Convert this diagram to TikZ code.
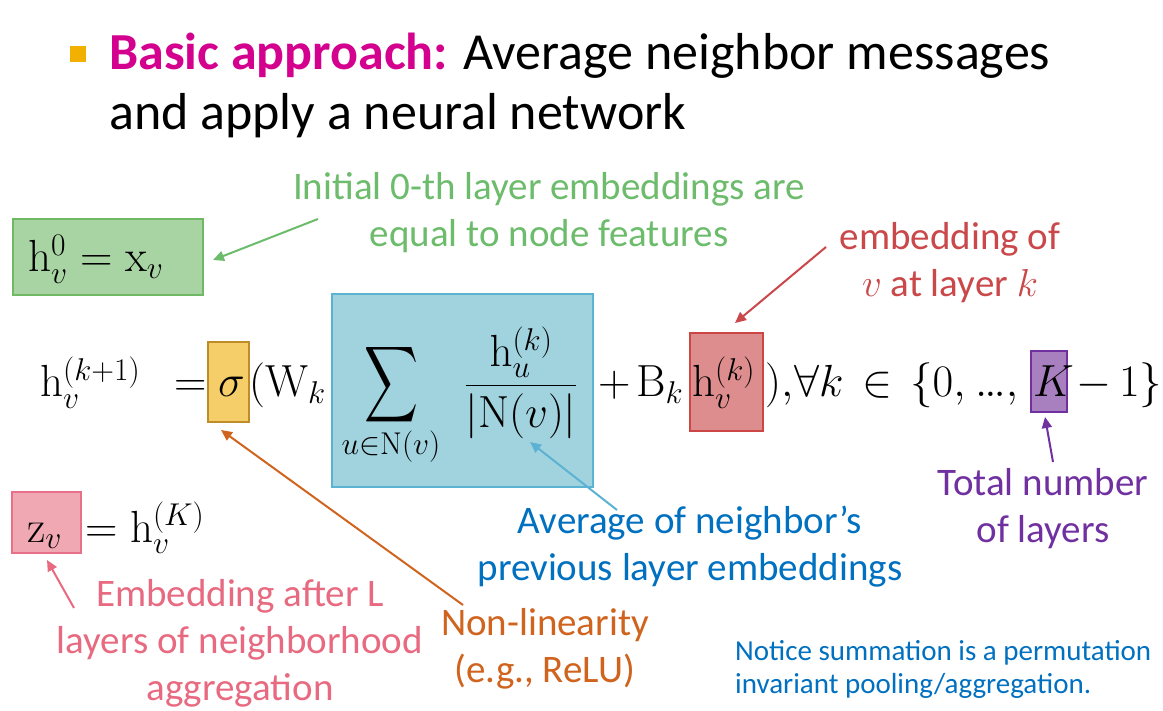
\RequirePackage{fix-cm}
\documentclass[tikz,border=0pt]{standalone}
\usepackage{exscale}
\usepackage{graphicx}
\usepackage[no-math]{fontspec}
\setmainfont{Carlito}
\usetikzlibrary{arrows.meta}
\definecolor{titlec}{RGB}{212,0,142}
\definecolor{bulletc}{RGB}{242,177,0}
\definecolor{greent}{RGB}{108,188,108}
\definecolor{greenf}{RGB}{168,212,163}
\definecolor{greend}{RGB}{112,184,100}
\definecolor{redt}{RGB}{202,72,74}
\definecolor{redf}{RGB}{221,141,141}
\definecolor{redd}{RGB}{204,70,70}
\definecolor{bluet}{RGB}{0,112,192}
\definecolor{bluef}{RGB}{161,211,223}
\definecolor{blued}{RGB}{92,178,210}
\definecolor{purt}{RGB}{112,48,160}
\definecolor{purf}{RGB}{168,128,192}
\definecolor{orat}{RGB}{208,100,30}
\definecolor{sigf}{RGB}{245,205,105}
\definecolor{sigd}{RGB}{190,140,40}
\definecolor{pinkt}{RGB}{232,106,128}
\definecolor{pinkf}{RGB}{240,168,178}
\definecolor{pinkd}{RGB}{232,112,136}
\newcommand{\mydots}{\mathrm{.\kern-3pt.\kern-3pt.}}
\begin{document}
\begin{tikzpicture}[x=1pt,y=-1pt,
  lbl/.style={font=\fontsize{39}{47}\selectfont, align=center, anchor=base, inner sep=0pt},
  eq/.style={font=\fontsize{45}{54}\selectfont, anchor=base west, inner sep=0pt},
  eqc/.style={font=\fontsize{45}{54}\selectfont, anchor=base, inner sep=0pt},
  hbox/.style={line width=2.5pt},
  arr/.style={line width=2pt, -{Triangle[length=11pt,width=10pt]}}]
\useasboundingbox (0,0) rectangle (1163,711);
\fill[white] (0,0) rectangle (1163,711);
% title
\fill[bulletc] (70,46) rectangle (86,62);
\node[font=\fontsize{52}{60}\selectfont, anchor=base west, inner sep=0pt] (t1) at (109,70)
  {\textcolor{titlec}{\textbf{Basic approach:}} Average neighbor messages};
\node[font=\fontsize{52}{60}\selectfont, anchor=base west, inner sep=0pt] (t2) at (109,130)
  {and apply a neural network};
% boxes
\draw[hbox, fill=greenf, draw=greend] (13,219) rectangle (203,295);
\node[eq] (g0) at (28,272) {$\mathrm{h}_v^0 = \mathrm{x}_v$};
\draw[hbox, fill=bluef, draw=blued] (332,294) rectangle (593,487);
\draw[hbox, fill=sigf, draw=sigd] (208,342) rectangle (249,422);
\draw[hbox, fill=redf, draw=redd] (690,333) rectangle (763,431);
\draw[hbox, fill=purf, draw=purt] (1031,351) rectangle (1067,412);
\draw[hbox, fill=pinkf, draw=pinkd] (12,492) rectangle (81,553);
% equation
\node[eq] (e1) at (40,397) {$\mathrm{h}_v^{(k+1)}$};
\node[eq] (e2) at (174,397) {$=$};
\node[eq] (e3) at (218,397) {$\sigma$};
\node[eq] (e4) at (249,397) {$(\mathrm{W}_k$};
\node[inner sep=0pt, font=\fontsize{45}{54}\selectfont] (e5s) at (391,385) {\resizebox*{54pt}{85pt}{$\displaystyle\sum$}};
\node[eqc] (e5u) at (391,455) {$\scriptstyle u\in\mathrm{N}(v)$};
\node[eqc] (e5f) at (521,397) {$\displaystyle\frac{\mathrm{h}_u^{(k)}}{|\mathrm{N}(v)|}$};
\node[eq] (e6a) at (598,397) {$+$};
\node[eq] (e6b) at (636,397) {$\mathrm{B}_k$};
\node[eq] (e7) at (692,397) {$\mathrm{h}_v^{(k)}$};
\node[eq] (e8a) at (765,397) {$),$};
\node[eq] (e8b) at (794,397) {$\forall k$};
\node[eq] (e8c) at (862,397) {$\in$};
\node[eq] (e8d) at (910,397) {$\{0,$};
\node[eq] (e8e) at (975,397) {$\mydots,$};
\node[eq] (e9) at (1033,397) {$K$};
\node[eq] (e10a) at (1076,397) {$-$};
\node[eq] (e10b) at (1119,397) {$1\}$};
\node[eq] (z1) at (27,542) {$\mathrm{z}_v$};
\node[eq] (z2) at (85,542) {$= \mathrm{h}_v^{(K)}$};
% labels
\node[lbl, text=greent] (lg) at (549,247) {Initial 0-th layer embeddings are\\equal to node features};
\node[lbl, text=redt] (lr) at (950,297) {embedding of\\$v$ at layer $k$};
\node[lbl, text=bluet] (lb) at (690,580) {Average of neighbor’s\\previous layer embeddings};
\node[lbl, text=purt] (lp) at (1043,542) {Total number\\of layers};
\node[lbl, text=orat] (lo) at (545,682) {Non-linearity\\(e.g., ReLU)};
\node[lbl, text=pinkt] (lk) at (240,700) {Embedding after L\\layers of neighborhood\\aggregation};
\node[font=\fontsize{29}{33}\selectfont, align=left, anchor=base west, inner sep=0pt, text=bluet] (ln) at (735,693)
  {Notice summation is a permutation\\invariant pooling/aggregation.};
% arrows
\coordinate (ga) at (318,219); \coordinate (gb) at (213,260);
\coordinate (ra) at (826,247); \coordinate (rb) at (735,323);
\coordinate (oa) at (463,605); \coordinate (ob) at (221,430);
\coordinate (ba) at (617,510); \coordinate (bb) at (530,442);
\coordinate (pa) at (1053,462); \coordinate (pb) at (1045,417);
\coordinate (ka) at (74,608); \coordinate (kb) at (47,560);
\draw[arr, greent] (ga) -- (gb);
\draw[arr, redt] (ra) -- (rb);
\draw[arr, orat] (oa) -- (ob);
\draw[arr, blued] (ba) -- (bb);
\draw[arr, purt] (pa) -- (pb);
\draw[arr, pinkt] (ka) -- (kb);
\end{tikzpicture}
\end{document}
